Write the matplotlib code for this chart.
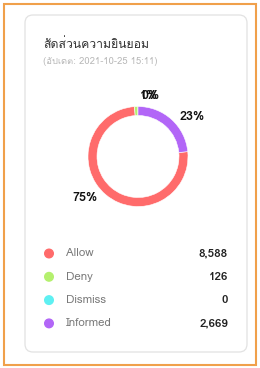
import numpy as np
import matplotlib
matplotlib.use('Agg')
import matplotlib.pyplot as plt
from matplotlib import font_manager
from matplotlib.ft2font import FT2Font
from matplotlib.patches import FancyBboxPatch, Rectangle, Circle

title = 'สัดส่วนความยินยอม'
subtitle = '(อัปเดต: 2021-10-25 15:11)'
labels = ['Allow', 'Deny', 'Dismiss', 'Informed']
counts = [8588, 126, 0, 2669]
colors = ['#ff6b6b', '#b4f06e', '#5ef0f2', '#b266f7']

# find something that can draw Thai
thai = None
for f in font_manager.fontManager.ttflist:
    try:
        if 0x0E2A in FT2Font(f.fname).get_charmap():
            thai = f.name
            break
    except Exception:
        pass
fam = [thai, 'DejaVu Sans'] if thai else ['DejaVu Sans']
plt.rcParams['font.family'] = fam

fig = plt.figure(figsize=(2.6, 3.68), dpi=100)
bg = fig.add_axes([0, 0, 1, 1])
bg.set_xlim(0, 260)
bg.set_ylim(368, 0)
bg.axis('off')

bg.add_patch(Rectangle((4, 4), 252, 361, fill=False, edgecolor='#f0a04b', lw=1.5))
bg.add_patch(FancyBboxPatch((25, 15), 222, 337, boxstyle='round,pad=0,rounding_size=8',
                            facecolor='white', edgecolor='#e2e2e2', lw=0.9))

bg.text(43, 45, title, fontsize=8.8, va='center', color='#333333', fontweight='medium')
bg.text(43, 62, subtitle, fontsize=6.8, va='center', color='#b8b8b8')

# legend rows
for i, (lab, n, c) in enumerate(zip(labels, counts, colors)):
    y = 253.5 + i * 23.3
    bg.add_patch(Circle((49, y), 4.3, color=c))
    bg.text(66, y, lab, fontsize=8.3, va='center', color='#7a7a7a')
    bg.text(228, y, f'{n:,}', fontsize=8.3, va='center', ha='right',
            color='#222222', fontweight='bold')

# donut
cx, cy, r = 138, 156.5, 50
ax = fig.add_axes([(cx - r) / 260, (368 - cy - r) / 368, 2 * r / 260, 2 * r / 368])
total = sum(counts)
start = 90 - 360 * counts[-1] / total
ax.pie(counts, colors=colors, startangle=start, counterclock=False, radius=1,
       wedgeprops=dict(width=0.18, edgecolor='white', linewidth=0.4))
ax.set_xlim(-1, 1)
ax.set_ylim(-1, 1)
ax.axis('off')

cum = 0
for n in counts:
    frac = n / total
    mid = np.deg2rad(start - 360 * (cum + frac / 2) - 12)
    cum += frac
    d = 1.2 + 0.18 * abs(np.cos(mid))
    ax.text(d * np.cos(mid), d * np.sin(mid), f'{round(frac * 100)}%', fontsize=9,
            fontweight='bold', ha='center', va='center', color='#111111', clip_on=False)

fig.savefig('out.png', dpi=100)
